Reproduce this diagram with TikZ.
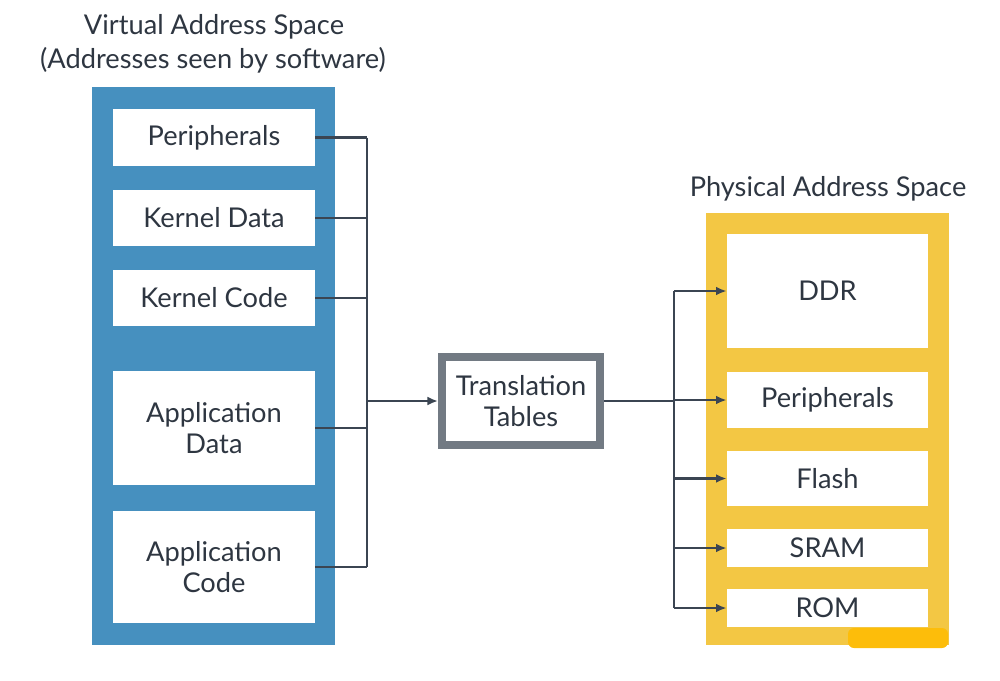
\documentclass[tikz,border=0pt]{standalone}
\usepackage{fontspec}
\setmainfont{Lato}
\usetikzlibrary{arrows.meta}
\definecolor{vblue}{HTML}{4690BF}
\definecolor{pyellow}{HTML}{F3C744}
\definecolor{tgray}{HTML}{727A83}
\definecolor{ink}{HTML}{2E3641}
\definecolor{wire}{HTML}{3B4552}
\definecolor{blob}{HTML}{FDBD0A}
\def\px{0.02cm}

\begin{document}
\begin{tikzpicture}[x=0.02cm,y=-0.02cm,
  font=\fontsize{15.5}{18}\selectfont, text=ink,
  membox/.style={fill=white, inner sep=0pt, align=center, minimum width=202*\px},
  panel/.style={inner sep=0pt, minimum width=243*\px},
  conn/.style={wire, line width=1.3pt},
  arr/.style={conn, -{Latex[length=6pt,width=5pt]}}]
  \useasboundingbox (0,0) rectangle (1000,680);

  % Panels
  \node[panel, fill=vblue, minimum height=558*\px] (vspace) at (213.5,366) {};
  \node[panel, fill=pyellow, minimum height=432*\px] (pspace) at (827,429) {};

  % Titles
  \node (vtitle) at (214,27) {Virtual Address Space};
  \node (vsub) at (213,60) {(Addresses seen by software)};
  \node (ptitle) at (828,189) {Physical Address Space};

  % Virtual address space
  \node[membox, minimum height=57*\px] (vperiph) at (214,137.5) {Peripherals};
  \node[membox, minimum height=56*\px] (vkdata) at (214,218) {Kernel Data};
  \node[membox, minimum height=56*\px] (vkcode) at (214,298) {Kernel Code};
  \node[membox, minimum height=114*\px] (vappdata) at (214,428) {Application\\Data};
  \node[membox, minimum height=112*\px] (vappcode) at (214,567) {Application\\Code};

  % Translation tables
  \node[draw=tgray, line width=8*\px, fill=white, align=center, inner sep=0pt,
        minimum width=158*\px, minimum height=88*\px] (trans) at (521,401) {Translation\\Tables};

  % Physical address space
  \node[membox, minimum width=201*\px, minimum height=114*\px] (pddr) at (827.5,291) {DDR};
  \node[membox, minimum width=201*\px, minimum height=56*\px] (pperiph) at (827.5,400) {Peripherals};
  \node[membox, minimum width=201*\px, minimum height=55*\px] (pflash) at (827.5,478.5) {Flash};
  \node[membox, minimum width=201*\px, minimum height=38*\px] (psram) at (827.5,548) {SRAM};
  \node[membox, minimum width=201*\px, minimum height=38*\px] (prom) at (827.5,608) {ROM};

  % Left bus
  \coordinate (vbus) at (367,0);
  \draw[conn] (vperiph.east) -- (vperiph.east -| vbus);
  \draw[conn] (vkdata.east) -- (vkdata.east -| vbus);
  \draw[conn] (vkcode.east) -- (vkcode.east -| vbus);
  \draw[conn] (vappdata.east) -- (vappdata.east -| vbus);
  \draw[conn] (vappcode.east) -- (vappcode.east -| vbus);
  \draw[conn] (vperiph.east -| vbus) -- (vappcode.east -| vbus);
  \draw[arr] (trans.west -| vbus) -- (trans.west);

  % Right bus
  \coordinate (pbus) at (674,0);
  \draw[conn] (trans.east) -- (trans.east -| pbus);
  \draw[conn] (pddr.west -| pbus) -- (prom.west -| pbus);
  \draw[arr] (pddr.west -| pbus) -- (pddr.west);
  \draw[arr] (pperiph.west -| pbus) -- (pperiph.west);
  \draw[arr] (pflash.west -| pbus) -- (pflash.west);
  \draw[arr] (psram.west -| pbus) -- (psram.west);
  \draw[arr] (prom.west -| pbus) -- (prom.west);

  % Highlighter mark
  \fill[blob, rounded corners=6*\px] (848,628) rectangle (948,648);

\end{tikzpicture}
\end{document}
